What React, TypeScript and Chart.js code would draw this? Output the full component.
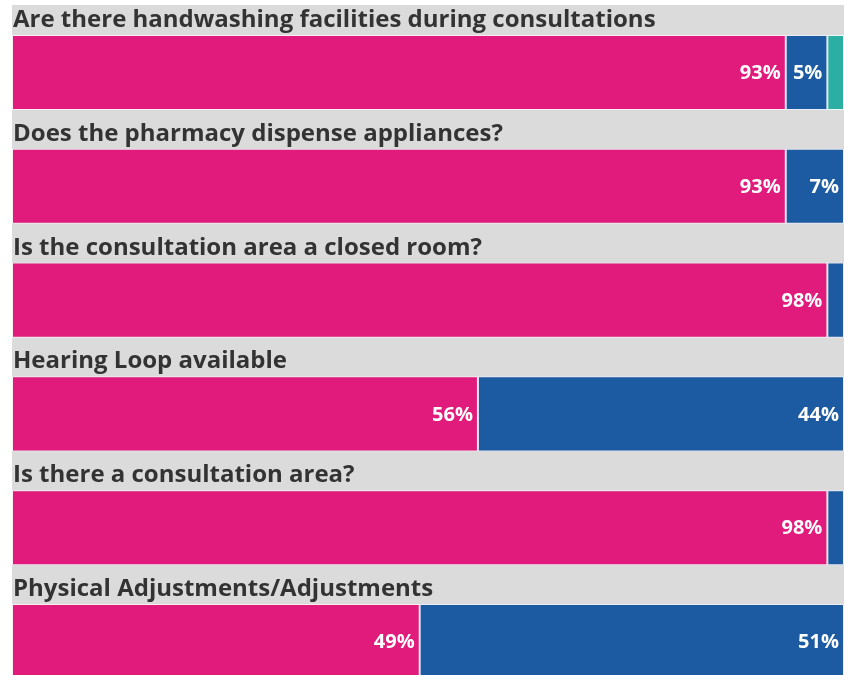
import React, { useEffect, useRef } from "react";
import { Chart, registerables } from "chart.js";

Chart.register(...registerables);

const categories = [
  "Are there handwashing facilities during consultations",
  "Does the pharmacy dispense appliances?",
  "Is the consultation area a closed room?",
  "Hearing Loop available",
  "Is there a consultation area?",
  "Physical Adjustments/Adjustments",
];
const yesValues = [93, 93, 98, 56, 98, 49];
const noValues = [5, 7, 2, 44, 2, 51];
const otherValues = [2, 0, 0, 0, 0, 0];

const PINK = "#E01B7B";
const BLUE = "#1C5BA1";
const TEAL = "#2BAFA3";
const GRAY = "#DBDBDB";

const bgPlugin = {
  id: "bgPanel",
  beforeDraw(chart: any) {
    const { ctx, width, height } = chart;
    ctx.save();
    ctx.fillStyle = GRAY;
    ctx.fillRect(12, 5, width - 12, height - 5);
    ctx.restore();
  },
};

const titlesPlugin = {
  id: "rowTitles",
  afterDatasetsDraw(chart: any) {
    const { ctx } = chart;
    const meta0 = chart.getDatasetMeta(0);
    ctx.save();
    ctx.font = "bold 24px 'Open Sans'";
    ctx.fillStyle = "#333333";
    ctx.textAlign = "left";
    ctx.textBaseline = "alphabetic";
    meta0.data.forEach((bar: any, i: number) => {
      const top = bar.y - bar.height / 2;
      ctx.fillText(categories[i], 13, top - 8);
    });
    // value labels
    ctx.font = "bold 20px 'Open Sans'";
    ctx.fillStyle = "#ffffff";
    ctx.textAlign = "right";
    ctx.textBaseline = "middle";
    chart.data.datasets.forEach((ds: any, di: number) => {
      const meta = chart.getDatasetMeta(di);
      meta.data.forEach((bar: any, i: number) => {
        const v = ds.data[i];
        if (v < 5) return;
        const right = Math.max(bar.x, bar.base);
        ctx.fillText(v + "%", right - 5, bar.y + 1);
      });
    });
    ctx.restore();
  },
};

export default function App() {
  const ref = useRef<HTMLCanvasElement | null>(null);
  useEffect(() => {
    document.body.style.margin = "0";
    const canvas = ref.current!;
    const border = { top: 1, bottom: 1, left: 1, right: 1 };
    const chart = new Chart(canvas, {
      type: "bar",
      data: {
        labels: categories,
        datasets: [
          { label: "Yes", data: yesValues, backgroundColor: PINK, borderColor: "rgba(255,240,248,0.85)", borderWidth: border, borderSkipped: false },
          { label: "No", data: noValues, backgroundColor: BLUE, borderColor: "rgba(235,240,255,0.85)", borderWidth: border, borderSkipped: false },
          { label: "Other", data: otherValues, backgroundColor: TEAL, borderColor: "rgba(235,255,250,0.85)", borderWidth: border, borderSkipped: false },
        ],
      },
      options: {
        indexAxis: "y",
        animation: false,
        responsive: false,
        maintainAspectRatio: false,
        layout: { padding: { left: 12, right: 0, top: 15.6, bottom: 1.6 } },
        scales: {
          x: { stacked: true, min: 0, max: 100, display: false },
          y: { stacked: true, display: false },
        },
        datasets: { bar: { barPercentage: 0.66, categoryPercentage: 1 } },
        plugins: { legend: { display: false }, tooltip: { enabled: false }, title: { display: false } },
      },
      plugins: [bgPlugin, titlesPlugin],
    } as any);
    return () => chart.destroy();
  }, []);
  return (
    <div style={{ position: "absolute", left: 0, top: 0, width: 844, height: 675, overflow: "hidden", background: "#fff" }}>
      <canvas ref={ref} width={844} height={700} style={{ display: "block", width: 844, height: 700 }} />
    </div>
  );
}
